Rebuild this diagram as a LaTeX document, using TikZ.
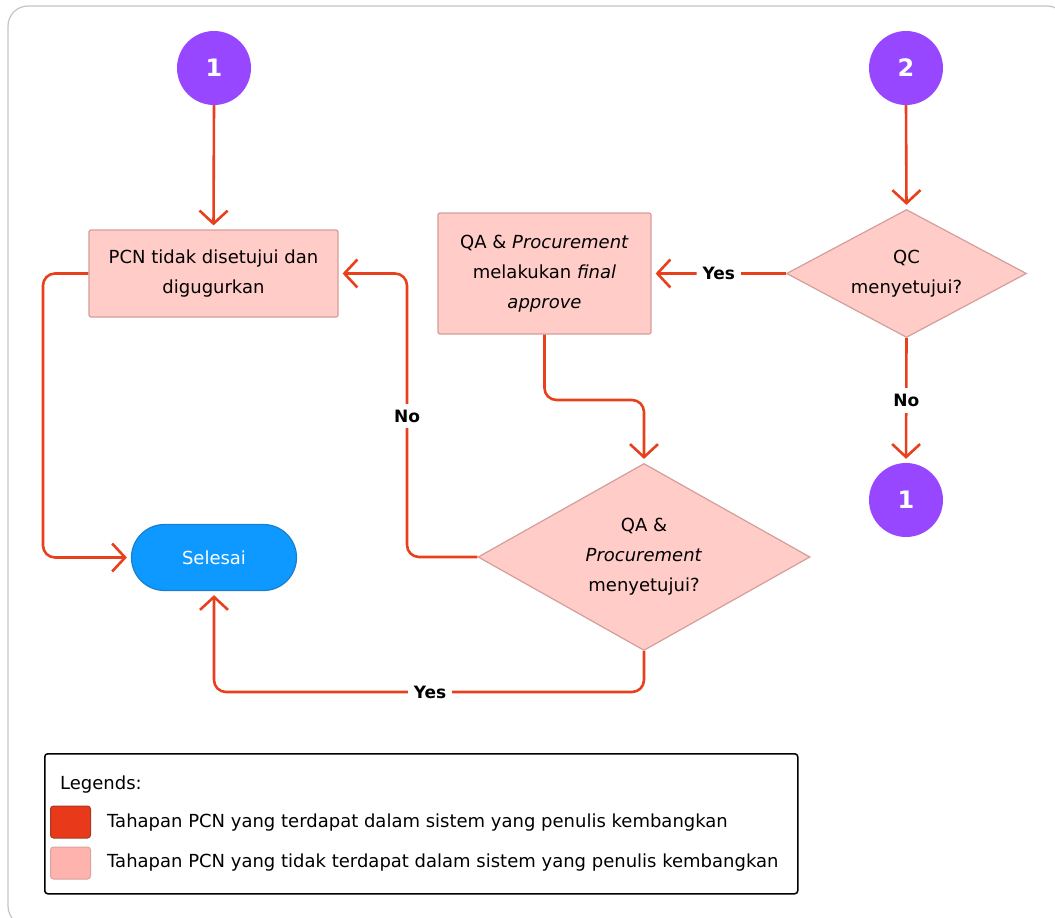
\documentclass[tikz,border=0pt]{standalone}
\usepackage{fontspec}
\setmainfont{DejaVu Sans}
\usetikzlibrary{arrows.meta,shapes.geometric,shapes.misc}

\definecolor{flow}{HTML}{E8401C}
\definecolor{stepfill}{HTML}{FFCCC7}
\definecolor{stepline}{HTML}{D49E9A}
\definecolor{connfill}{HTML}{9747FF}
\definecolor{endfill}{HTML}{0D99FF}
\definecolor{endline}{HTML}{1B7FCB}
\definecolor{legred}{HTML}{E8391A}
\definecolor{legredline}{HTML}{A33A26}
\definecolor{legpink}{HTML}{FFB3AE}
\definecolor{legpinkline}{HTML}{D9A39F}
\definecolor{framecol}{HTML}{C4C4C4}

\tikzset{
  txt/.style={font=\fontsize{18}{30}\selectfont, align=center},
  stepbox/.style={txt, rectangle, rounded corners=2pt, fill=stepfill, draw=stepline, line width=1.2pt, inner sep=0pt},
  decision/.style={txt, diamond, fill=stepfill, draw=stepline, line width=1.2pt, inner sep=0pt},
  connector/.style={circle, fill=connfill, draw=none, minimum size=74pt, inner sep=0pt,
    text=white, font=\fontsize{24}{24}\selectfont\bfseries},
  terminal/.style={txt, rounded rectangle, fill=endfill, draw=endline, line width=1.2pt,
    text=white, minimum width=165pt, minimum height=66pt, inner sep=0pt},
  flowline/.style={draw=flow, line width=2.6pt, rounded corners=12pt,
    -{Straight Barb[length=13pt,width=28pt,line width=2.6pt]}, shorten >=4pt},
  lbl/.style={fill=white, font=\fontsize{17}{17}\selectfont\bfseries, inner sep=6pt},
  legtxt/.style={font=\fontsize{18}{18}\selectfont, anchor=west, inner sep=0pt},
}

\begin{document}
\begin{tikzpicture}[x=1pt, y=-1pt]
  \useasboundingbox (0,0) rectangle (1055,918);
  \draw[framecol, line width=1.2pt, rounded corners=20pt] (8,6) rectangle (1067,926);

  % nodes
  \node[connector] (c1) at (214,68) {1};
  \node[connector] (c2) at (906,68) {2};
  \node[connector] (c1b) at (906,500) {1};

  \node[stepbox, minimum width=249pt, minimum height=87pt] (drop) at (213.5,273.5)
    {PCN tidak disetujui dan\\digugurkan};
  \node[stepbox, minimum width=213pt, minimum height=121pt] (appr) at (544.5,273.5)
    {QA \& \textit{Procurement}\\melakukan \textit{final}\\\textit{approve}};
  \node[decision, aspect=1.875, minimum width=240pt, minimum height=128pt] (qc) at (906.5,273.5)
    {QC\\menyetujui?};
  \node[decision, aspect=1.775, minimum width=332pt, minimum height=187pt] (qad) at (644,557)
    {QA \&\\\textit{Procurement}\\menyetujui?};
  \node[terminal] (end) at (214,557.5) {Selesai};

  % bend points of the connectors
  \coordinate (lb) at (43,557.5);
  \coordinate (mid) at (595,400);
  \coordinate (nk) at (407,416);
  \coordinate (yk) at (430,692);

  % connectors
  \draw[flowline] (c1.south) -- (drop.north);
  \draw[flowline] (c2.south) -- (qc.north);
  \draw[flowline] (drop.west) -| (lb) -- (end.west);
  \draw[flowline] (appr.south) |- (mid) -| (qad.north);
  \draw[flowline] (qc.west) -- node[lbl] {Yes} (appr.east);
  \draw[flowline] (qc.south) -- node[lbl] {No} (c1b.north);
  \draw[flowline] (qad.west) -| (nk) |- (drop.east);
  \node[lbl] at (nk) {No};
  \draw[flowline] (qad.south) |- (yk) -| (end.south);
  \node[lbl] at (yk) {Yes};

  % legend
  \node[draw=black, line width=1.5pt, rounded corners=3pt, minimum width=753pt, minimum height=140pt,
    anchor=north west] (legend) at (44,753) {};
  \node[legtxt] (legtitle) at (60,785) {Legends:};
  \node[fill=legred, draw=legredline, line width=1pt, rounded corners=3pt, minimum width=40pt,
    minimum height=32pt, inner sep=0pt] (sq1) at (70.5,822) {};
  \node[fill=legpink, draw=legpinkline, line width=1pt, rounded corners=3pt, minimum width=40pt,
    minimum height=32pt, inner sep=0pt] (sq2) at (70.5,863) {};
  \node[legtxt] (leg1) at (107,823) {Tahapan PCN yang terdapat dalam sistem yang penulis kembangkan};
  \node[legtxt] (leg2) at (107,863) {Tahapan PCN yang tidak terdapat dalam sistem yang penulis kembangkan};
\end{tikzpicture}
\end{document}
